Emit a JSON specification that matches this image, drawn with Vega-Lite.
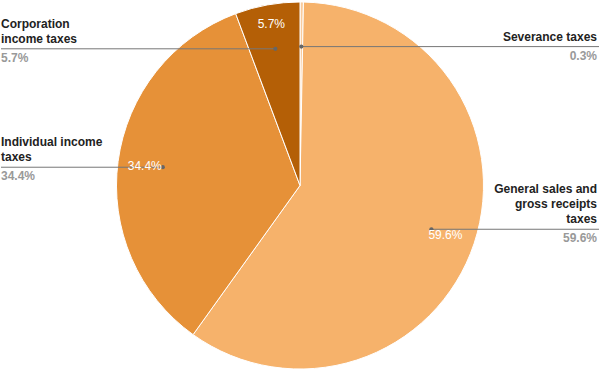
{
  "$schema": "https://vega.github.io/schema/vega-lite/v6.json",
  "width": 600,
  "height": 371,
  "autosize": {"type": "fit", "contains": "padding"},
  "padding": 0,
  "background": "white",
  "config": {"view": {"stroke": null}, "font": "Liberation Sans"},
  "data": {
    "values": [
      {"name": "Severance taxes", "label": ["Severance taxes"], "value": 0.3},
      {"name": "General sales and gross receipts taxes", "label": ["General sales and", "gross receipts", "taxes"], "value": 59.6},
      {"name": "Individual income taxes", "label": ["Individual income", "taxes"], "value": 34.4},
      {"name": "Corporation income taxes", "label": ["Corporation", "income taxes"], "value": 5.7}
    ]
  },
  "transform": [
    {"window": [{"op": "sum", "field": "value", "as": "end"}], "frame": [null, 0]},
    {"calculate": "datum.end - datum.value", "as": "start"},
    {"calculate": "(datum.start + datum.end) / 100 * PI", "as": "mid"},
    {"calculate": "0.757 * sin(datum.mid)", "as": "px"},
    {"calculate": "0.757 * cos(datum.mid)", "as": "py"},
    {"calculate": "datum.py + (length(datum.label) - 1) * 15 / 183.5", "as": "ly"},
    {"calculate": "datum.px < 0 ? -1.6349 : 1.6349", "as": "edge"},
    {"calculate": "format(datum.value, '.1f') + '%'", "as": "pct"}
  ],
  "layer": [
    {
      "mark": {"type": "arc", "outerRadius": 183.5, "stroke": "white", "strokeWidth": 1},
      "encoding": {
        "theta": {"field": "start", "type": "quantitative", "scale": {"domain": [0, 100]}},
        "theta2": {"field": "end"},
        "color": {
          "field": "name",
          "type": "nominal",
          "scale": {
            "domain": ["Severance taxes", "General sales and gross receipts taxes", "Individual income taxes", "Corporation income taxes"],
            "range": ["#f9cb9c", "#f6b26b", "#e69138", "#b45f06"]
          },
          "legend": null
        }
      }
    },
    {
      "mark": {"type": "rule", "stroke": "#777777", "strokeWidth": 1},
      "encoding": {
        "x": {"field": "px", "type": "quantitative", "scale": {"domain": [-1.6349, 1.6349], "nice": false, "zero": false}, "axis": null},
        "x2": {"field": "edge"},
        "y": {"field": "py", "type": "quantitative", "scale": {"domain": [-1.0109, 1.0109], "nice": false, "zero": false}, "axis": null}
      }
    },
    {
      "mark": {"type": "point", "filled": true, "size": 18, "color": "#666666", "opacity": 1},
      "encoding": {
        "x": {"field": "px", "type": "quantitative"},
        "y": {"field": "py", "type": "quantitative"}
      }
    },
    {
      "transform": [{"filter": "datum.px < 0"}],
      "mark": {"type": "text", "align": "left", "baseline": "alphabetic", "dy": -6, "fontSize": 12, "fontWeight": "bold", "color": "#222222", "lineHeight": 15},
      "encoding": {
        "x": {"field": "edge", "type": "quantitative"},
        "y": {"field": "ly", "type": "quantitative"},
        "text": {"field": "label"}
      }
    },
    {
      "transform": [{"filter": "datum.px >= 0"}],
      "mark": {"type": "text", "align": "right", "baseline": "alphabetic", "dy": -6, "dx": -2, "fontSize": 12, "fontWeight": "bold", "color": "#222222", "lineHeight": 15},
      "encoding": {
        "x": {"field": "edge", "type": "quantitative"},
        "y": {"field": "ly", "type": "quantitative"},
        "text": {"field": "label"}
      }
    },
    {
      "transform": [{"filter": "datum.px < 0"}],
      "mark": {"type": "text", "align": "left", "baseline": "top", "dy": 4, "fontSize": 12, "fontWeight": "bold", "color": "#999999"},
      "encoding": {
        "x": {"field": "edge", "type": "quantitative"},
        "y": {"field": "py", "type": "quantitative"},
        "text": {"field": "pct"}
      }
    },
    {
      "transform": [{"filter": "datum.px >= 0"}],
      "mark": {"type": "text", "align": "right", "baseline": "top", "dy": 4, "dx": -2, "fontSize": 12, "fontWeight": "bold", "color": "#999999"},
      "encoding": {
        "x": {"field": "edge", "type": "quantitative"},
        "y": {"field": "py", "type": "quantitative"},
        "text": {"field": "pct"}
      }
    },
    {
      "transform": [{"filter": "datum.name == 'General sales and gross receipts taxes'"}],
      "mark": {"type": "text", "align": "left", "baseline": "top", "dx": -3, "dy": 1, "fontSize": 12, "color": "white"},
      "encoding": {
        "x": {"field": "px", "type": "quantitative"},
        "y": {"field": "py", "type": "quantitative"},
        "text": {"field": "pct"}
      }
    },
    {
      "transform": [{"filter": "datum.name == 'Individual income taxes'"}],
      "mark": {"type": "text", "align": "right", "baseline": "alphabetic", "dx": -1, "dy": 3, "fontSize": 12, "color": "white"},
      "encoding": {
        "x": {"field": "px", "type": "quantitative"},
        "y": {"field": "py", "type": "quantitative"},
        "text": {"field": "pct"}
      }
    },
    {
      "transform": [{"filter": "datum.name == 'Corporation income taxes'"}],
      "mark": {"type": "text", "align": "center", "baseline": "middle", "dx": -4, "dy": -25, "fontSize": 12, "color": "white"},
      "encoding": {
        "x": {"field": "px", "type": "quantitative"},
        "y": {"field": "py", "type": "quantitative"},
        "text": {"field": "pct"}
      }
    }
  ]
}
